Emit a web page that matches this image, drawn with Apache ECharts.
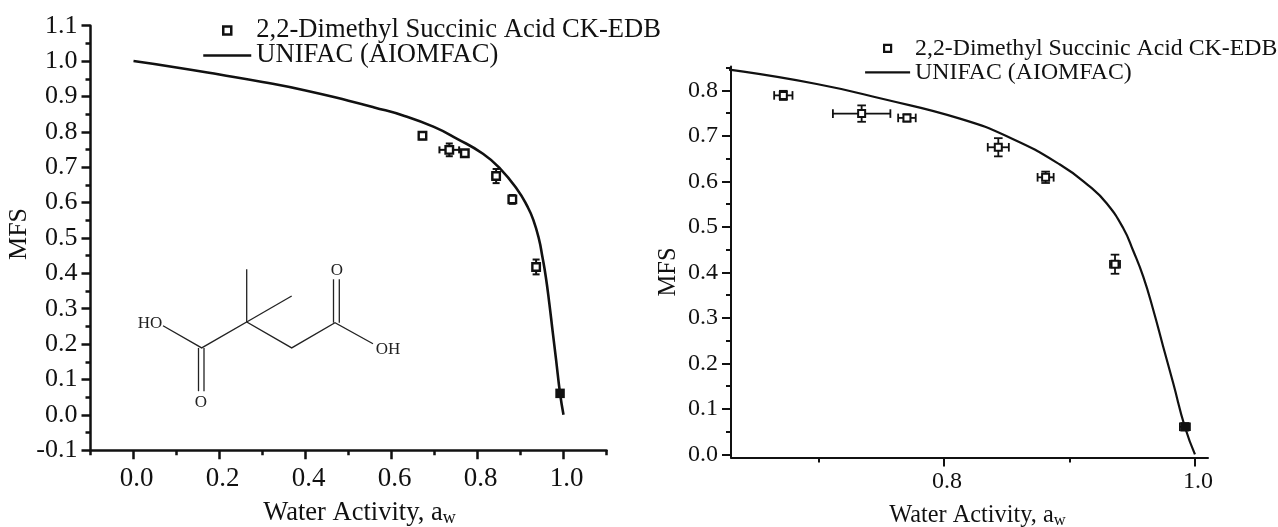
<!DOCTYPE html>
<html><head><meta charset="utf-8">
<style>html,body{margin:0;padding:0;background:#fff}#c{width:1278px;height:527px}</style>
<script src="https://cdn.jsdelivr.net/npm/echarts@6/dist/echarts.min.js"></script>
</head><body><div id="c"></div>
<script>
const seriesPointsName = '2,2-Dimethyl Succinic Acid CK-EDB';
const seriesCurveName = 'UNIFAC (AIOMFAC)';
// x, y, xErr, yErr
const measured = [
  [0.672, 0.789, 0.0073, 0.010],
  [0.7344, 0.749, 0.0229, 0.018],
  [0.7705, 0.7395, 0.0070, 0.008],
  [0.8433, 0.675, 0.0084, 0.020],
  [0.881, 0.609, 0.0064, 0.0125],
  [0.9363, 0.418, 0.0040, 0.021]
];
const measuredSolid = [[0.992, 0.0607, 0.004, 0.008]];
const curve = [
  [0,1],[0.1,0.982],[0.2,0.962],[0.3,0.941],[0.4,0.917],[0.5,0.888],[0.56,0.869],[0.6303,0.845],
  [0.6986,0.814],[0.7516,0.781],[0.8127,0.738],[0.8526,0.696],[0.8924,0.637],[0.9163,0.5884],
  [0.9296,0.5519],[0.9429,0.497],[0.9508,0.4475],[0.9588,0.3905],[0.9668,0.3174],[0.9747,0.2367],
  [0.9827,0.1563],[0.992,0.0602],[1.0,0]
];
const leftXMajor = [0,0.2,0.4,0.6,0.8,1.0];
const leftXMinor = [-0.1,0.1,0.3,0.5,0.7,0.9,1.1];
const leftYMajor = [-0.1,0,0.1,0.2,0.3,0.4,0.5,0.6,0.7,0.8,0.9,1.0,1.1];
const leftYMinor = [-0.05,0.05,0.15,0.25,0.35,0.45,0.55,0.65,0.75,0.85,0.95,1.05];
const rightXMajor = [0.8,1.0];
const rightXMinor = [0.7,0.9];
const rightYMajor = [0,0.1,0.2,0.3,0.4,0.5,0.6,0.7,0.8];
const rightYMinor = [0.05,0.15,0.25,0.35,0.45,0.55,0.65,0.75,0.85];

const INK = '#111';
const SERIF = '"Liberation Serif","Times New Roman",serif';
const fmt = v => v.toFixed(1);

function axisPair(kind, grid, range, major, minor, o) {
  const base = {type:'value', gridIndex:grid, min:range[0], max:range[1], position: kind==='x'?'bottom':'left',
    splitLine:{show:false}};
  return [
    Object.assign({}, base, {
      axisLine:{show:true,onZero:false,lineStyle:{color:INK,width:o.lw}},
      axisTick:{show:true,customValues:major,length:9,lineStyle:{color:INK,width:o.lw}},
      axisLabel:{show:true,customValues:major,formatter:fmt,margin:o.margin,fontFamily:SERIF,fontSize:o.fs,color:INK,padding:o.pad||0},
      name:o.name,nameLocation:'middle',nameGap:o.nameGap,nameRotate:kind==='y'?90:0,
      nameTextStyle:o.nameStyle
    }),
    Object.assign({}, base, {
      axisLine:{show:false,onZero:false},
      axisTick:{show:true,customValues:minor,length:5,lineStyle:{color:INK,width:o.lw}},
      axisLabel:{show:false}
    })
  ];
}

function errRender(capHalf, lw) {
  return function(params, api) {
    const x = api.value(0), y = api.value(1), ex = api.value(2), ey = api.value(3);
    const c = api.coord([x,y]);
    const l = api.coord([x-ex,y]), r = api.coord([x+ex,y]);
    const t = api.coord([x,y+ey]), b = api.coord([x,y-ey]);
    const seg = (x1,y1,x2,y2) => ({type:'line',shape:{x1,y1,x2,y2},style:{stroke:INK,lineWidth:lw,fill:null}});
    return {type:'group',children:[
      seg(l[0],c[1],r[0],c[1]), seg(c[0],t[1],c[0],b[1]),
      seg(l[0],c[1]-capHalf,l[0],c[1]+capHalf), seg(r[0],c[1]-capHalf,r[0],c[1]+capHalf),
      seg(c[0]-capHalf,t[1],c[0]+capHalf,t[1]), seg(c[0]-capHalf,b[1],c[0]+capHalf,b[1])
    ]};
  };
}

function panelSeries(xi, yi, o) {
  const common = {xAxisIndex:xi,yAxisIndex:yi};
  return [
    Object.assign({type:'line',name:seriesCurveName,data:curve,showSymbol:false,smooth:0.5,clip:true,
      lineStyle:{color:INK,width:o.curveW},itemStyle:{color:INK},z:2},common),
    Object.assign({type:'custom',name:'err',data:measured.concat(measuredSolid),encode:{x:0,y:1},
      renderItem:errRender(o.cap,o.errW),z:3,silent:true},common),
    Object.assign({type:'scatter',name:seriesPointsName,data:measured.map(d=>[d[0],d[1]]),symbol:'rect',symbolSize:o.sym,
      itemStyle:{color:'#fff',borderColor:INK,borderWidth:o.symW,opacity:1},z:4},common),
    Object.assign({type:'scatter',name:seriesPointsName,data:measuredSolid.map(d=>[d[0],d[1]]),symbol:'rect',symbolSize:o.sym+2,
      itemStyle:{color:INK,borderColor:INK,borderWidth:0,opacity:1},z:4},common)
  ];
}

function legendFor(left, top, w, fs, lh, symH, symW, curveW, gap) {
  return {
    left, top, orient:'vertical', itemWidth:w, itemHeight:symH, itemGap:gap, padding:0, align:'left',
    selectedMode:false, symbolKeepAspect:true,
    textStyle:{fontFamily:SERIF,fontSize:fs,color:INK,lineHeight:lh},
    data:[
      {name:seriesPointsName,icon:'path://M0 0H1V1H0Z',itemStyle:{color:'#fff',borderColor:INK,borderWidth:symW}},
      {name:seriesCurveName,lineStyle:{color:INK,width:curveW},itemStyle:{opacity:0}}
    ]
  };
}

const xTitle = (fs,sub) => ({
  rich:{a:{fontFamily:SERIF,fontSize:fs,color:INK},b:{fontFamily:SERIF,fontSize:sub,color:INK,padding:[10,0,0,0]}}
});

const option = {
  backgroundColor:'#fff',
  animation:false,
  grid:[
    {left:90.5,top:25.7,width:516,height:424.5,outerBoundsMode:'none'},
    {left:731,top:66.5,width:477,height:391,outerBoundsMode:'none'}
  ],
  legend:[
    legendFor(202,17,48,26.6,25,8,2.5,2.5,-2),
    legendFor(864,36.4,45,23.8,24,7,2.2,2.2,0)
  ],
  xAxis:[
    ...axisPair('x',0,[-0.1,1.1],leftXMajor,leftXMinor,{lw:2.5,fs:27,margin:15,pad:[0,0,0,6],name:'{a|Water Activity, a}{b|w}',nameGap:49,nameStyle:Object.assign(xTitle(26.5,18),{padding:[0,0,0,22]})}),
    ...axisPair('x',1,[0.6303,1.0104],rightXMajor,rightXMinor,{lw:2,fs:24,margin:12,pad:[0,0,0,6],name:'{a|Water Activity, a}{b|w}',nameGap:45,nameStyle:Object.assign(xTitle(24.3,16.5),{padding:[0,0,0,16]})})
  ],
  yAxis:[
    ...axisPair('y',0,[-0.1,1.1],leftYMajor,leftYMinor,{lw:2.5,fs:26,margin:13,name:'MFS',nameGap:51,nameStyle:{fontFamily:SERIF,fontSize:26,color:INK,padding:[0,0,0,8]}}),
    ...axisPair('y',1,[-0.0068,0.8525],rightYMajor,rightYMinor,{lw:2,fs:24,margin:13,name:'MFS',nameGap:50,nameStyle:{fontFamily:SERIF,fontSize:24.5,color:INK,padding:[0,20,0,0]}})
  ],
  series:[
    ...panelSeries(0,0,{curveW:2.6,cap:3.5,errW:2,sym:7.5,symW:2.4}),
    ...panelSeries(2,2,{curveW:2.2,cap:4.3,errW:1.8,sym:7,symW:2})
  ],
  graphic:[{
    type:'group',silent:true,
    children:[
      ...[
        [[163,325.7],[201.7,347.9],[246.7,322],[291.7,347.9],[335,322.7],[373,343.8]],
        [[246.7,322],[246.7,269.2]],
        [[246.7,322],[291.7,296]],
        [[198.5,347.9],[198.5,391.2]],
        [[204,347.9],[204,391.2]],
        [[333.5,322.7],[333.5,279.3]],
        [[339.3,322.7],[339.3,279.3]]
      ].map(points=>({type:'polyline',shape:{points},style:{stroke:'#222',lineWidth:1.3,fill:null}})),
      ...[['HO',150,323.7],['O',201,402.3],['O',337,270.2],['OH',388,349.9]].map(t=>({
        type:'text',style:{text:t[0],x:t[1],y:t[2],align:'center',verticalAlign:'middle',fontFamily:SERIF,fontSize:17,fill:'#222'}
      }))
    ]
  }]
};
const chart = echarts.init(document.getElementById('c'),null,{renderer:'canvas'});
chart.setOption(option);
</script></body></html>
